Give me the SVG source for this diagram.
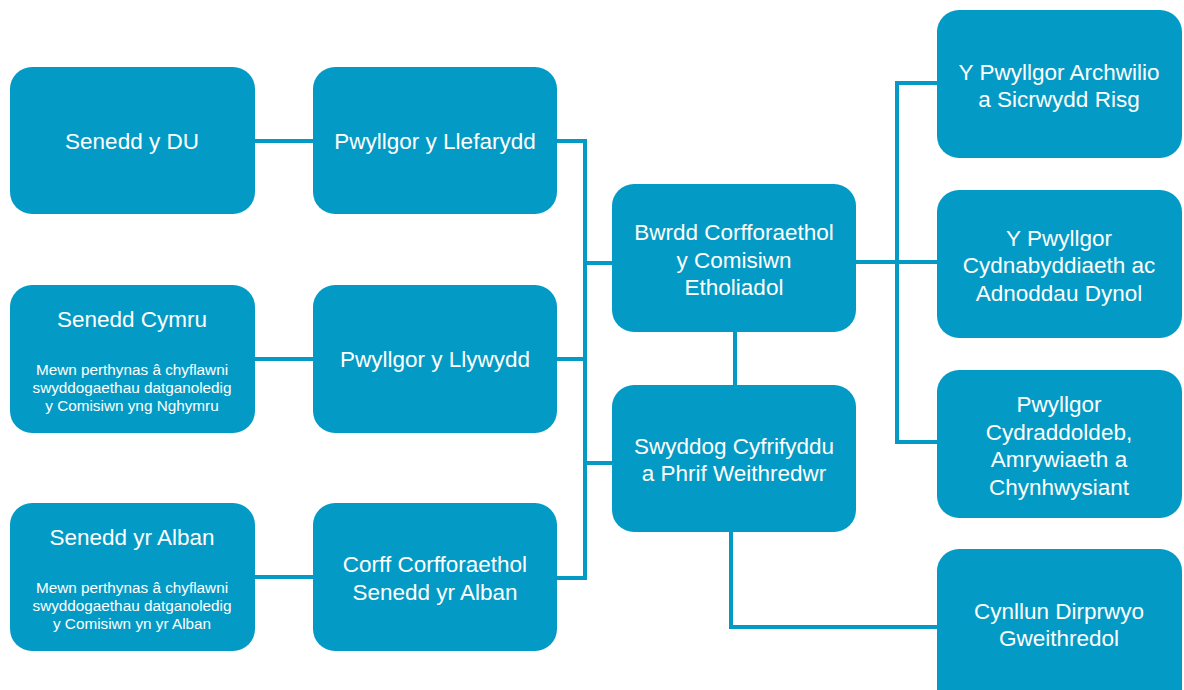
<svg xmlns="http://www.w3.org/2000/svg" width="1184" height="690" viewBox="0 0 1184 690">
<style>
.box{fill:#039BC5;}
.t{font-family:"Liberation Sans",Arial,sans-serif;font-size:22.5px;fill:#ffffff;text-anchor:middle;}
.s{font-family:"Liberation Sans",Arial,sans-serif;font-size:15.3px;fill:#ffffff;text-anchor:middle;}
.c{fill:none;stroke:#039BC5;stroke-width:4;}
</style>
<rect width="1184" height="690" fill="#ffffff"/>
<g id="connectors">
<line class="c" x1="255" y1="141" x2="313" y2="141"/>
<line class="c" x1="255" y1="359" x2="313" y2="359"/>
<line class="c" x1="255" y1="577" x2="313" y2="577"/>
<polyline class="c" points="557,141 585,141 585,578 557,578"/>
<line class="c" x1="557" y1="359" x2="585" y2="359"/>
<line class="c" x1="585" y1="263" x2="612" y2="263"/>
<line class="c" x1="585" y1="463" x2="612" y2="463"/>
<line class="c" x1="735" y1="332" x2="735" y2="385"/>
<line class="c" x1="856" y1="262" x2="937" y2="262"/>
<polyline class="c" points="937,83 897,83 897,442 937,442"/>
<polyline class="c" points="731,532 731,627 937,627"/>
</g>
<g id="senedd-du">
<rect class="box" x="10" y="67" width="245" height="147" rx="22"/>
<text class="t" x="132" y="149">Senedd y DU</text>
</g>
<g id="senedd-cymru">
<rect class="box" x="10" y="285" width="245" height="148" rx="22"/>
<text class="t" x="132" y="327">Senedd Cymru</text>
<text class="s" x="132" y="375">Mewn perthynas â chyflawni</text>
<text class="s" x="132" y="393">swyddogaethau datganoledig</text>
<text class="s" x="132" y="411">y Comisiwn yng Nghymru</text>
</g>
<g id="senedd-alban">
<rect class="box" x="10" y="503" width="245" height="148" rx="22"/>
<text class="t" x="132" y="545">Senedd yr Alban</text>
<text class="s" x="132" y="593">Mewn perthynas â chyflawni</text>
<text class="s" x="132" y="611">swyddogaethau datganoledig</text>
<text class="s" x="132" y="629">y Comisiwn yn yr Alban</text>
</g>
<g id="pwyllgor-llefarydd">
<rect class="box" x="313" y="67" width="244" height="147" rx="22"/>
<text class="t" x="435" y="149">Pwyllgor y Llefarydd</text>
</g>
<g id="pwyllgor-llywydd">
<rect class="box" x="313" y="285" width="244" height="148" rx="22"/>
<text class="t" x="435" y="367">Pwyllgor y Llywydd</text>
</g>
<g id="corff-corfforaethol">
<rect class="box" x="313" y="503" width="244" height="148" rx="22"/>
<text class="t" x="435" y="572">Corff Corfforaethol</text>
<text class="t" x="435" y="600">Senedd yr Alban</text>
</g>
<g id="bwrdd">
<rect class="box" x="612" y="184" width="244" height="148" rx="22"/>
<text class="t" x="734" y="240">Bwrdd Corfforaethol</text>
<text class="t" x="734" y="268">y Comisiwn</text>
<text class="t" x="734" y="295">Etholiadol</text>
</g>
<g id="swyddog">
<rect class="box" x="612" y="385" width="244" height="147" rx="22"/>
<text class="t" x="734" y="454">Swyddog Cyfrifyddu</text>
<text class="t" x="734" y="481">a Phrif Weithredwr</text>
</g>
<g id="archwilio">
<rect class="box" x="937" y="10" width="245" height="148" rx="22"/>
<text class="t" x="1059" y="80">Y Pwyllgor Archwilio</text>
<text class="t" x="1059" y="107">a Sicrwydd Risg</text>
</g>
<g id="cydnabyddiaeth">
<rect class="box" x="937" y="190" width="245" height="148" rx="22"/>
<text class="t" x="1059" y="246">Y Pwyllgor</text>
<text class="t" x="1059" y="273">Cydnabyddiaeth ac</text>
<text class="t" x="1059" y="301">Adnoddau Dynol</text>
</g>
<g id="cydraddoldeb">
<rect class="box" x="937" y="370" width="245" height="148" rx="22"/>
<text class="t" x="1059" y="412">Pwyllgor</text>
<text class="t" x="1059" y="440">Cydraddoldeb,</text>
<text class="t" x="1059" y="467">Amrywiaeth a</text>
<text class="t" x="1059" y="495">Chynhwysiant</text>
</g>
<g id="cynllun">
<rect class="box" x="937" y="549" width="245" height="170" rx="22"/>
<text class="t" x="1059" y="619">Cynllun Dirprwyo</text>
<text class="t" x="1059" y="646">Gweithredol</text>
</g>
</svg>
